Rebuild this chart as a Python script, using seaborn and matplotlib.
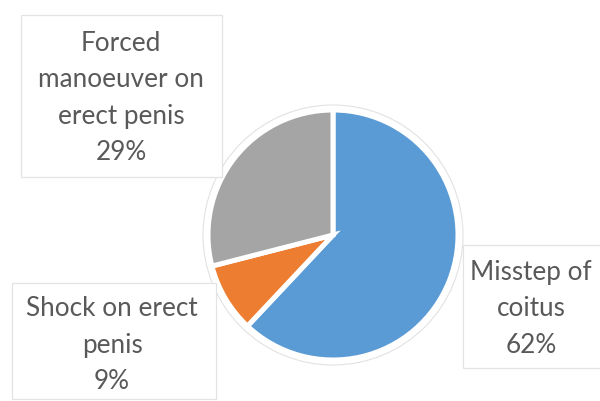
import matplotlib
matplotlib.use("Agg")
import matplotlib.pyplot as plt
from matplotlib.patches import Rectangle, Circle
import seaborn as sns

# Injury mechanisms and their share of cases (%)
categories = ["Misstep of coitus", "Shock on erect penis", "Forced manoeuver on erect penis"]
label_lines = ["Misstep of\ncoitus", "Shock on erect\npenis", "Forced\nmanoeuver on\nerect penis"]
shares = [62, 9, 29]
colors = ["#5B9BD5", "#ED7D31", "#A5A5A5"]

sns.set_theme(style="white")
plt.rcParams["font.family"] = ["Lato", "DejaVu Sans"]

W, H = 600, 401
fig = plt.figure(figsize=(W / 100, H / 100), dpi=100)
ax = fig.add_axes([0, 0, 1, 1])

cx, cy, r = 333, 401 - 235, 125

# faint outline around the pie
ax.add_patch(Circle((cx, cy), r + 5, facecolor="white", edgecolor="#e2e2e2", lw=0.8, zorder=1))

ax.pie(shares, colors=colors, startangle=90, counterclock=False,
       center=(cx, cy), radius=r,
       wedgeprops=dict(edgecolor="white", linewidth=3.6, zorder=2))
ax.set_xlim(0, W)
ax.set_ylim(0, H)
ax.set_aspect("equal")
ax.axis("off")

# label boxes: (x0, y0, width, height) and text anchor
boxes = {
    "Misstep of coitus": ((463, 401 - 368, 140, 123), (531, 401 - 309)),
    "Shock on erect penis": ((12, 401 - 399, 204, 116), (112, 401 - 345)),
    "Forced manoeuver on erect penis": ((21, 401 - 177, 201, 162), (121, 401 - 98)),
}

for cat, lines, val in zip(categories, label_lines, shares):
    (bx, by, bw, bh), (tx, ty) = boxes[cat]
    ax.add_patch(Rectangle((bx, by), bw, bh, facecolor="white", edgecolor="#e3e3e3",
                           lw=0.9, zorder=3))
    ax.text(tx, ty, f"{lines}\n{val}%", ha="center", va="center", fontsize=18.8,
            color="#595959", linespacing=1.58, zorder=4)

fig.savefig("out.png", dpi=100, facecolor="white")
